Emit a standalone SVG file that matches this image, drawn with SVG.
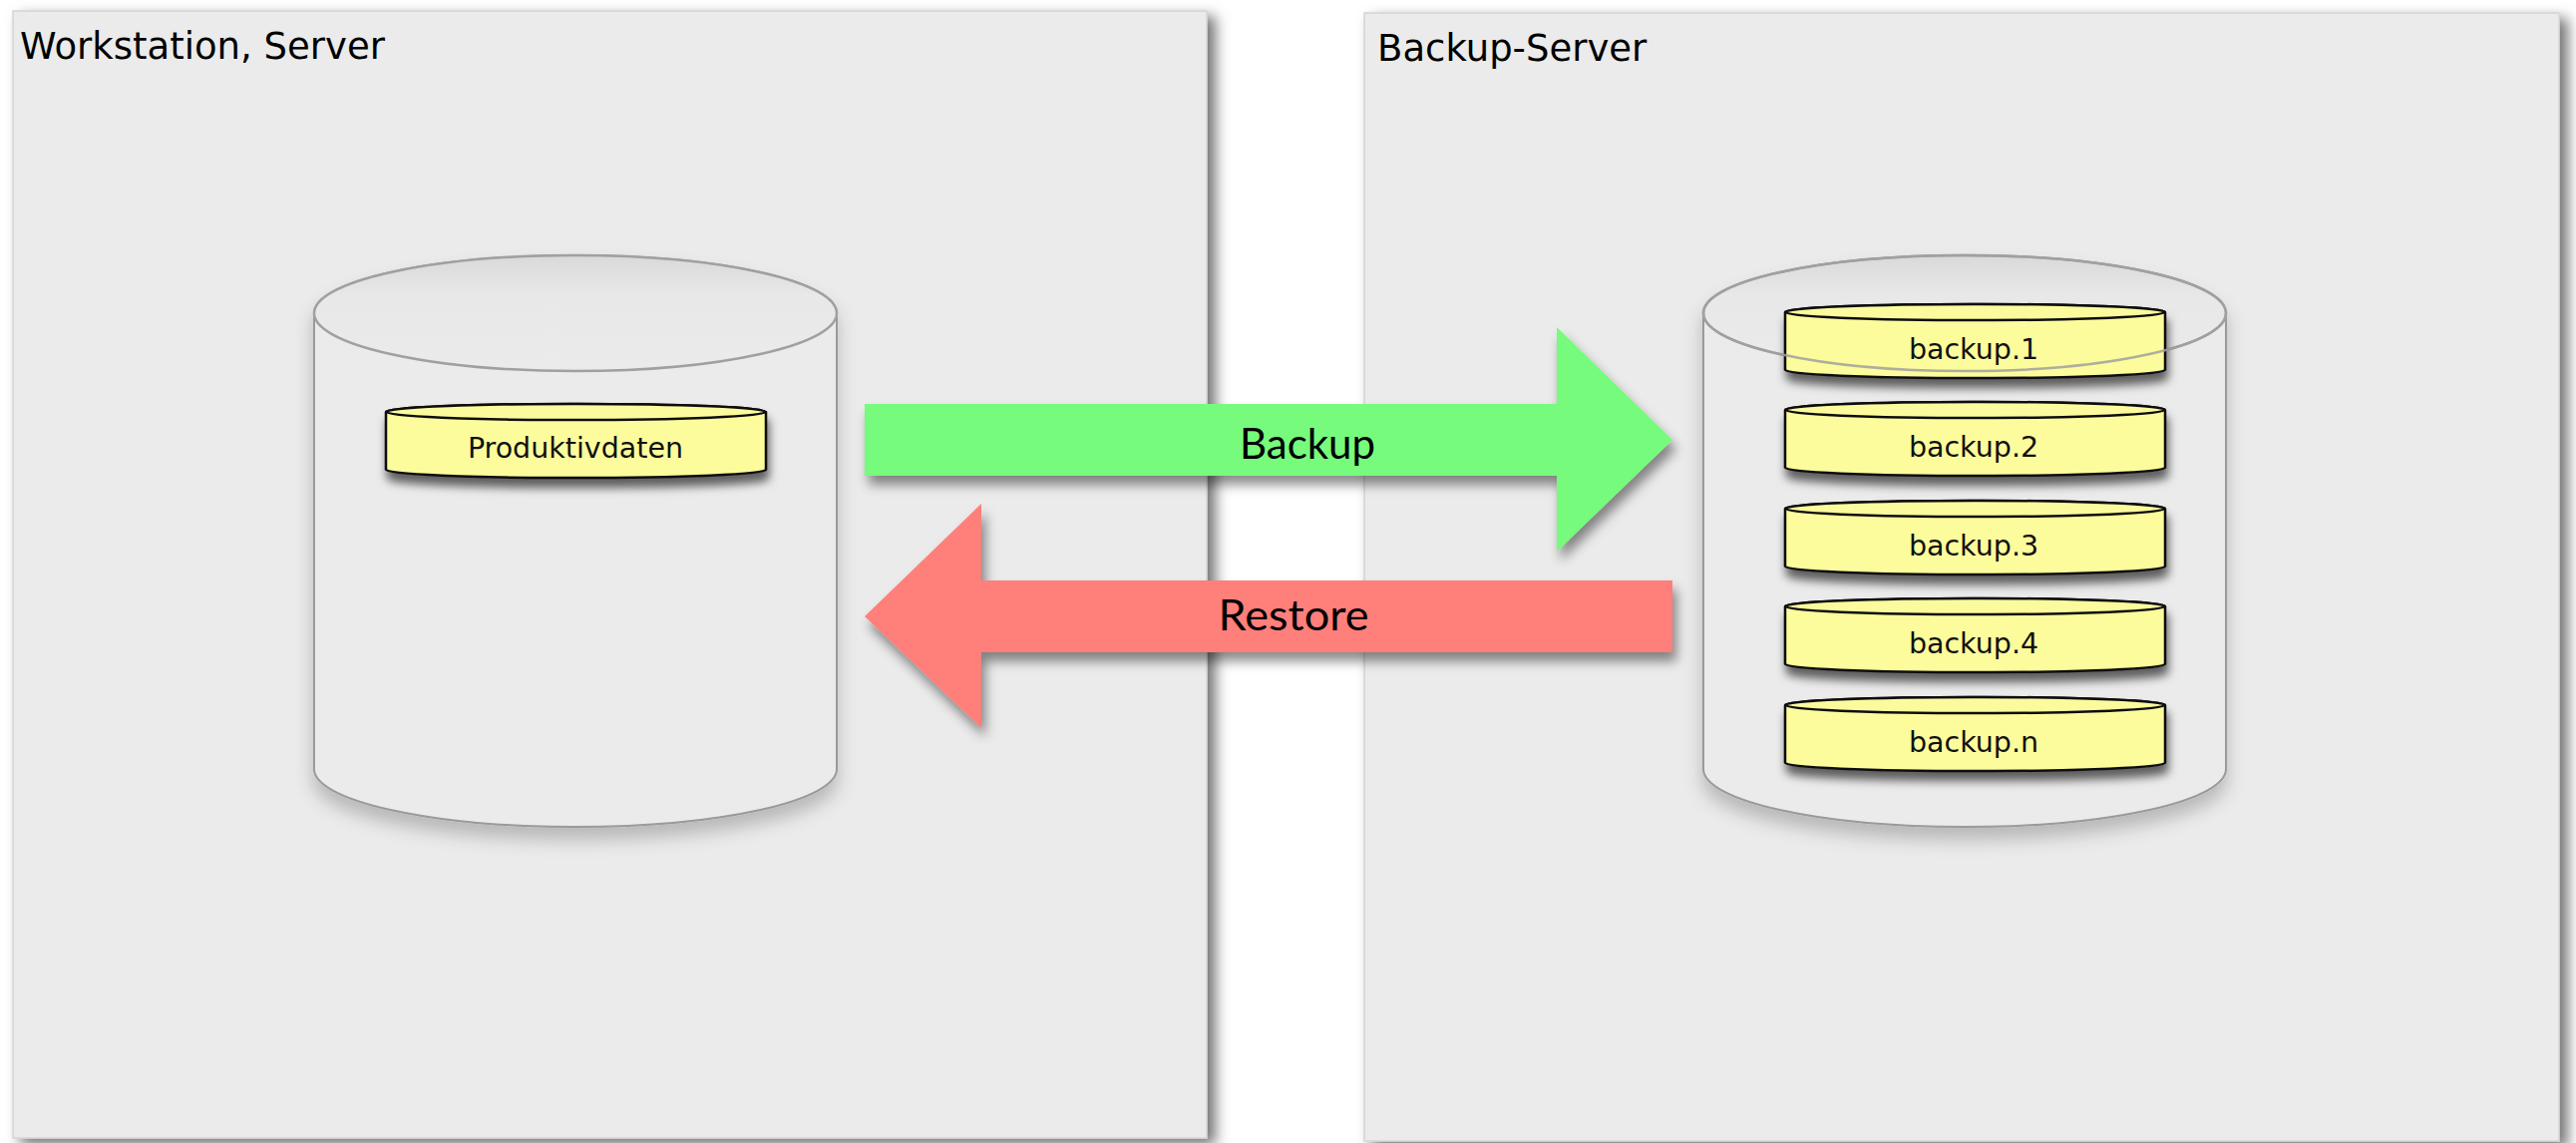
<svg xmlns="http://www.w3.org/2000/svg" xmlns:xlink="http://www.w3.org/1999/xlink" width="2583" height="1146" viewBox="0 0 2583 1146">
  <defs>
    <filter id="panelShadow" x="-5%" y="-5%" width="112%" height="112%">
      <feDropShadow dx="8" dy="6" stdDeviation="7" flood-color="#000" flood-opacity="0.55"/>
    </filter>
    <filter id="cylShadow" x="-10%" y="-10%" width="120%" height="130%">
      <feDropShadow dx="0" dy="12" stdDeviation="9" flood-color="#000" flood-opacity="0.22"/>
    </filter>
    <filter id="diskShadow" x="-10%" y="-30%" width="120%" height="180%">
      <feDropShadow dx="2" dy="9" stdDeviation="5" flood-color="#000" flood-opacity="0.6"/>
    </filter>
    <filter id="arrowShadow" x="-10%" y="-20%" width="120%" height="150%">
      <feDropShadow dx="4" dy="9" stdDeviation="6" flood-color="#000" flood-opacity="0.45"/>
    </filter>
    <linearGradient id="topGrad" x1="0" y1="0" x2="0" y2="1">
      <stop offset="0" stop-color="#d9d9d9"/>
      <stop offset="0.35" stop-color="#e8e8e8"/>
      <stop offset="1" stop-color="#ebebeb"/>
    </linearGradient>
    <g id="disk">
      <path d="M0,8 L0,66 A190.5,8 0 0 0 381,66 L381,8 A190.5,8 0 0 0 0,8 Z" class="diskBody"/>
      <ellipse cx="190.5" cy="8" rx="190.5" ry="8" class="diskTop"/>
    </g>
    <style>
      .panel { fill: #ebebeb; stroke: #d4d4d4; stroke-width: 1.5; }
      .title { font-family: "DejaVu Sans", Verdana, sans-serif; font-size: 37px; fill: #000; }
      .cylBody { fill: #ebebeb; stroke: #9a9a9a; stroke-width: 2; }
      .cylTop { fill: url(#topGrad); stroke: #a0a0a0; stroke-width: 2.5; }
      .cylRim { fill: none; stroke: #a0a0a0; stroke-width: 2.5; }
      .diskBody { fill: #fcfc9c; stroke: #111; stroke-width: 2.5; }
      .diskTop { fill: #fbfb9e; stroke: #111; stroke-width: 2.5; }
      .label { font-family: "DejaVu Sans", Verdana, sans-serif; font-size: 28.5px; fill: #111; text-anchor: middle; }
      .arrowLabel { font-family: Lato, "Open Sans", sans-serif; font-size: 42px; fill: #000; text-anchor: middle; }
    </style>
  </defs>

  <rect width="2583" height="1146" fill="#ffffff"/>

  <g id="panel-workstation">
    <rect class="panel" x="13" y="11" width="1197" height="1130" filter="url(#panelShadow)"/>
    <text class="title" x="20" y="59">Workstation, Server</text>
  </g>

  <g id="panel-backup-server">
    <rect class="panel" x="1368" y="13" width="1198" height="1131" filter="url(#panelShadow)"/>
    <text class="title" x="1381" y="61">Backup-Server</text>
  </g>

  <g id="db-workstation">
    <path class="cylBody" filter="url(#cylShadow)" d="M315,314 L315,771 A262,58 0 0 0 839,771 L839,314 A262,58 0 0 0 315,314 Z"/>
    <ellipse class="cylTop" cx="577" cy="314" rx="262" ry="58"/>
  </g>

  <g id="disk-produktivdaten">
    <use xlink:href="#disk" href="#disk" x="387" y="405" filter="url(#diskShadow)"/>
    <text class="label" x="577" y="459">Produktivdaten</text>
  </g>

  <g id="db-backup-server">
    <path class="cylBody" filter="url(#cylShadow)" d="M1708,314 L1708,771 A262,58 0 0 0 2232,771 L2232,314 A262,58 0 0 0 1708,314 Z"/>
    <ellipse class="cylTop" cx="1970" cy="314" rx="262" ry="58"/>
  </g>

  <g id="disk-backup-1">
    <use xlink:href="#disk" href="#disk" x="1790" y="305" filter="url(#diskShadow)"/>
    <text class="label" x="1979" y="360">backup.1</text>
  </g>
  <g id="disk-backup-2">
    <use xlink:href="#disk" href="#disk" x="1790" y="403" filter="url(#diskShadow)"/>
    <text class="label" x="1979" y="458">backup.2</text>
  </g>
  <g id="disk-backup-3">
    <use xlink:href="#disk" href="#disk" x="1790" y="502" filter="url(#diskShadow)"/>
    <text class="label" x="1979" y="557">backup.3</text>
  </g>
  <g id="disk-backup-4">
    <use xlink:href="#disk" href="#disk" x="1790" y="600" filter="url(#diskShadow)"/>
    <text class="label" x="1979" y="655">backup.4</text>
  </g>
  <g id="disk-backup-n">
    <use xlink:href="#disk" href="#disk" x="1790" y="699" filter="url(#diskShadow)"/>
    <text class="label" x="1979" y="754">backup.n</text>
  </g>

  <!-- rim of the backup-server cylinder drawn over backup.1 -->
  <ellipse class="cylRim" cx="1970" cy="314" rx="262" ry="58" stroke-opacity="0.85"/>

  <g id="connectors">
    <g id="arrow-backup">
      <polygon fill="#76fb7b" filter="url(#arrowShadow)" points="867,405 1561,405 1561,328 1677,441 1561,553 1561,477 867,477"/>
      <text class="arrowLabel" x="1311" y="460" textLength="136" lengthAdjust="spacingAndGlyphs">Backup</text>
    </g>
    <g id="arrow-restore">
      <polygon fill="#ff7f7a" filter="url(#arrowShadow)" points="1677,582 984,582 984,505 867,618 984,730 984,654 1677,654"/>
      <text class="arrowLabel" x="1297" y="632" textLength="151" lengthAdjust="spacingAndGlyphs">Restore</text>
    </g>
  </g>
</svg>
